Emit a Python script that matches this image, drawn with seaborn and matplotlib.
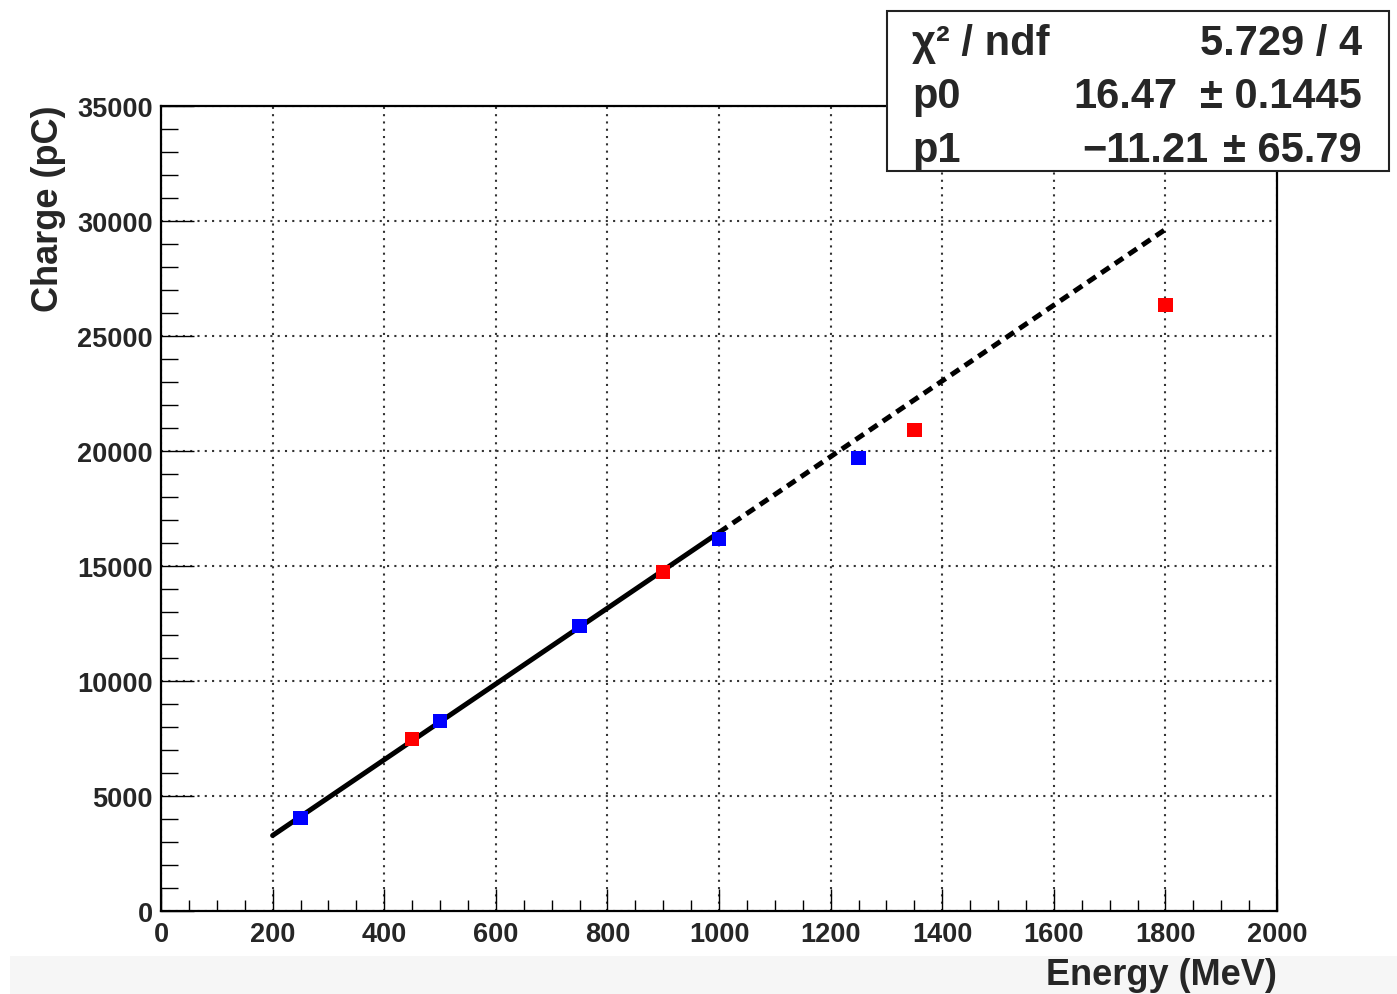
import numpy as np
import pandas as pd
import matplotlib
matplotlib.use("Agg")
import matplotlib.pyplot as plt
from matplotlib.patches import Rectangle
from matplotlib.ticker import MultipleLocator
import seaborn as sns

# Measured charge vs. beam energy, two measurement sets
energy_blue = [250, 500, 750, 1000, 1250]
charge_blue = [4040, 8260, 12390, 16170, 19700]
energy_red = [450, 900, 1350, 1800]
charge_red = [7480, 14740, 20910, 26350]

# Linear fit result: Q = p0 * E + p1
chi2, ndf = 5.729, 4
p0, p0_err = 16.47, 0.1445
p1, p1_err = -11.21, 65.79
fit_range = [200, 1000]       # fitted interval
extrap_range = [1000, 1800]   # extrapolation

x_ticks = [0, 200, 400, 600, 800, 1000, 1200, 1400, 1600, 1800, 2000]
y_ticks = [0, 5000, 10000, 15000, 20000, 25000, 30000, 35000]

sns.set_style("white")
plt.rcParams["font.family"] = ["Liberation Sans", "DejaVu Sans"]
plt.rcParams["font.weight"] = "bold"

W, H = 1397, 995
fig = plt.figure(figsize=(W / 100, H / 100), dpi=100)
fig.patch.set_facecolor("white")

# light strip along the bottom of the canvas
fig.patches.append(Rectangle((10 / W, 0), 1 - 10 / W, 1 - 957 / H,
                             transform=fig.transFigure, facecolor="#f6f6f6",
                             edgecolor="none", zorder=0))

ax = fig.add_axes([161 / W, 1 - 912 / H, (1277 - 161) / W, (912 - 107) / H])

points = pd.DataFrame({
    "energy": energy_blue + energy_red,
    "charge": charge_blue + charge_red,
    "set": ["blue"] * len(energy_blue) + ["red"] * len(energy_red),
})

fit_df = pd.DataFrame({"energy": fit_range,
                       "charge": [p0 * e + p1 for e in fit_range]})
ext_df = pd.DataFrame({"energy": extrap_range,
                       "charge": [p0 * e + p1 for e in extrap_range]})

sns.lineplot(data=fit_df, x="energy", y="charge", ax=ax, color="black",
             linewidth=3.6, zorder=3)
sns.lineplot(data=ext_df, x="energy", y="charge", ax=ax, color="black",
             linewidth=3.6, linestyle=(0, (2.0, 1.3)), zorder=3)
sns.scatterplot(data=points, x="energy", y="charge", hue="set",
                palette={"blue": "#0000ff", "red": "#ff0000"}, marker="s",
                s=110, edgecolor="none", linewidth=0, ax=ax, legend=False,
                zorder=4)

ax.set_xlim(0, 2000)
ax.set_ylim(0, 35000)
ax.set_xticks(x_ticks)
ax.set_yticks(y_ticks)
ax.set_xticklabels([str(t) for t in x_ticks])
ax.set_yticklabels([str(t) for t in y_ticks])
ax.xaxis.set_minor_locator(MultipleLocator(50))
ax.yaxis.set_minor_locator(MultipleLocator(1000))
ax.set_xlabel("")
ax.set_ylabel("")

ax.grid(True, which="major", color="#333333", linestyle=(0, (1, 2.5)),
        linewidth=1.5)
ax.set_axisbelow(True)

for side in ["left", "bottom", "top", "right"]:
    ax.spines[side].set_visible(True)
    ax.spines[side].set_color("black")
    ax.spines[side].set_linewidth(1.6)

ax.tick_params(axis="x", which="major", direction="in", length=16, width=1.0,
               color="black", labelsize=19.5, pad=7, top=False, bottom=True)
ax.tick_params(axis="x", which="minor", direction="in", length=8, width=1.0,
               color="black", top=False, bottom=True)
ax.tick_params(axis="y", which="major", direction="in", length=24, width=1.0,
               color="black", labelsize=19.5, pad=6, right=False, left=True)
ax.tick_params(axis="y", which="minor", direction="in", length=12, width=1.0,
               color="black", right=False, left=True)
for lab in ax.get_xticklabels() + ax.get_yticklabels():
    lab.set_fontweight("bold")

# axis titles
fig.text(1277 / W, 1 - 985 / H, "Energy (MeV)", ha="right", va="baseline",
         fontsize=26, fontweight="bold")
fig.text(48 / W, 1 - 105 / H, "Charge (pC)", ha="center", va="top",
         rotation=90, fontsize=26, fontweight="bold")

# fit statistics box
fig.patches.append(Rectangle((887 / W, 1 - 172 / H), (1389 - 887) / W,
                             (172 - 12) / H, transform=fig.transFigure,
                             facecolor="white", edgecolor="#222222",
                             linewidth=1.5, zorder=5))
rows = [
    ("χ² / ndf", [(f"{chi2:.3f} / {ndf}", 1362)], 55),
    ("p0", [(f"{p0:.2f}", 1178), (f"± {p0_err:.4f}", 1362)], 108),
    ("p1", [(f"{p1:.2f}".replace("-", "\u2212"), 1208),
            (f"± {p1_err:.2f}", 1362)], 162),
]
for name, parts, base in rows:
    fig.text(912 / W, 1 - base / H, name, ha="left", va="baseline",
             fontsize=30, fontweight="bold", zorder=6)
    for txt, xr in parts:
        fig.text(xr / W, 1 - base / H, txt, ha="right", va="baseline",
                 fontsize=30, fontweight="bold", zorder=6)

fig.savefig("out.png", dpi=100, facecolor="white")
